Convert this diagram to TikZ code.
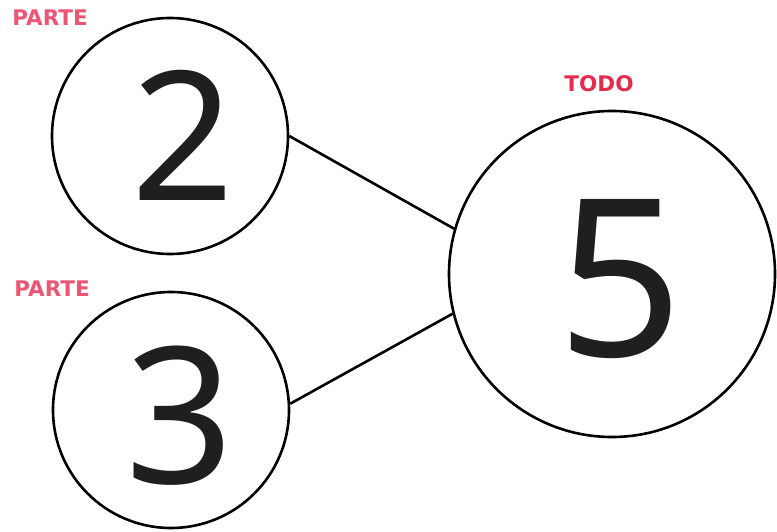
\documentclass[tikz,border=0pt]{standalone}
\usepackage{fontspec}
\setmainfont{Noto Sans}
\newfontfamily\labelfont{DejaVu Sans}
\usetikzlibrary{positioning}
\definecolor{partecolor}{RGB}{234,86,116}
\definecolor{todocolor}{RGB}{228,44,78}

\begin{document}
\begin{tikzpicture}[
    x=1pt, y=-1pt,
    ring/.style={draw, circle, line width=2.6pt, inner sep=0pt},
    digit/.style={inner sep=0pt, text=black!88},
    tag/.style={font=\labelfont\bfseries\fontsize{21.5}{21.5}\selectfont, inner sep=0pt}
  ]
  \useasboundingbox (0,0) rectangle (777,532);

  % Parts
  \node[ring, minimum size=236pt] (part1) at (170,136) {};
  \node[ring, minimum size=236pt] (part2) at (171,410) {};
  \node[tag, text=partecolor] (tag1) at (50,18) {PARTE};
  \node[tag, text=partecolor] (tag2) at (52,289) {PARTE};

  % Whole
  \node[ring, minimum size=326pt] (whole) at (612,274) {};
  \node[tag, text=todocolor] (tag3) at (599,84) {TODO};

  % Digits
  \node[digit, font=\fontsize{180}{180}\selectfont] (d2) at (183,135) {2};
  \node[digit, font=\fontsize{190}{190}\selectfont] (d3) at (180,416) {3};
  \node[digit, font=\fontsize{220}{220}\selectfont] (d5) at (620,279) {5};

  % Connectors
  \draw[line width=2.6pt] (part1.0) -- (whole.164);
  \draw[line width=2.6pt] (part2.3) -- (whole.194);

\end{tikzpicture}
\end{document}
